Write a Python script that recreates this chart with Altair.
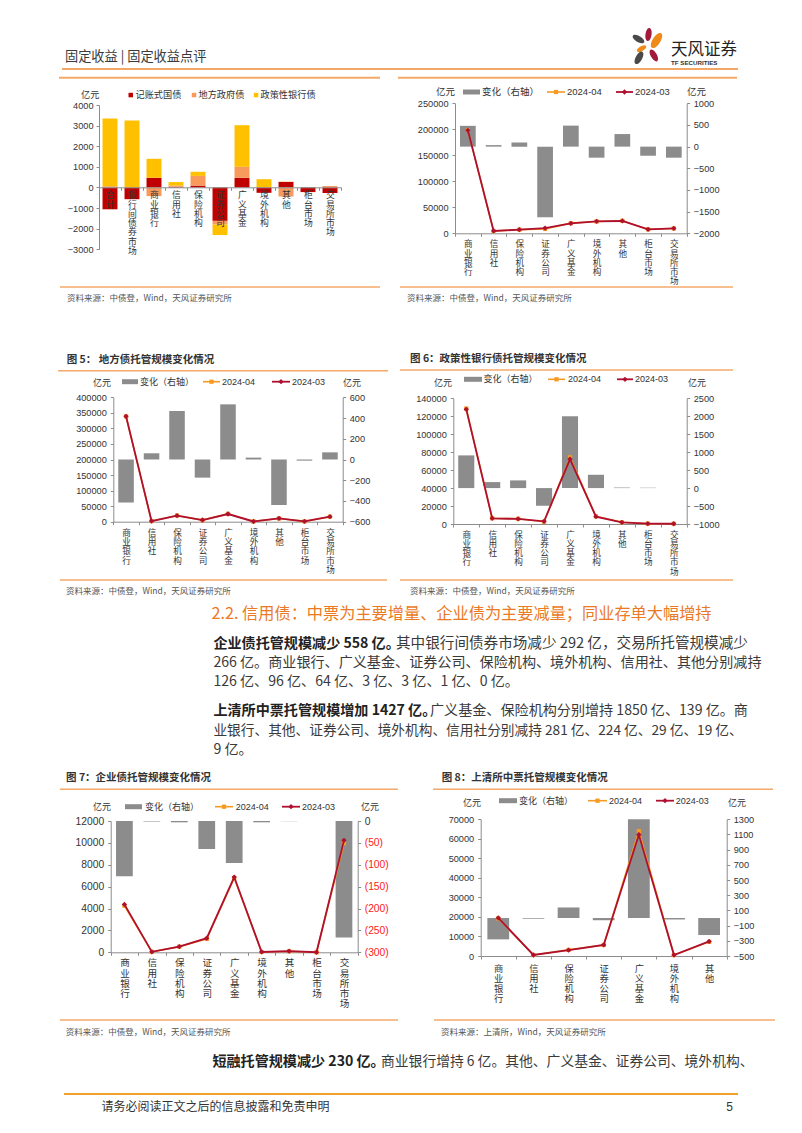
import altair as alt
import pandas as pd

# ---------------- data (亿元) ----------------
TL_CATS = ["合计", "银行间债券市场", "商业银行", "信用社", "保险机构", "证券公司",
           "广义基金", "境外机构", "其他", "柜台市场", "交易所市场"]
TL_SERIES = ["记账式国债", "地方政府债", "政策性银行债"]
TL_GOV = [-1060, -570, 470, 30, 90, -1620, 470, -260, 270, -220, -270]
TL_LOCAL = [60, 0, -420, 60, 470, -180, 530, 10, -440, -10, 70]
TL_POLICY = [3290, 3250, 920, 170, 200, -510, 2020, 390, 10, 0, 0]

CATS9 = ["商业银行", "信用社", "保险机构", "证券公司", "广义基金", "境外机构", "其他", "柜台市场", "交易所市场"]
CATS7 = ["商业银行", "信用社", "保险机构", "证券公司", "广义基金", "境外机构", "其他"]

GOV_CHG = [480, 35, 95, -1630, 485, -255, 290, -210, -255]
GOV_03 = [198000, 4500, 7000, 10000, 19000, 23000, 23700, 7700, 9600]
GOV_04 = [198480, 4535, 7095, 8370, 19485, 22745, 23990, 7490, 9345]

LOC_CHG = [-415, 60, 468, -175, 532, 18, -439, -11, 69]
LOC_03 = [339000, 2000, 19300, 5400, 24700, 700, 10700, 1000, 16100]
LOC_04 = [338585, 2060, 19768, 5225, 25232, 718, 10261, 989, 16169]

POL_CHG = [910, 167, 214, -492, 2000, 371, 15, 10, 0]
POL_03 = [127700, 6300, 5600, 3000, 72300, 8200, 1900, 400, 300]
POL_04 = [128610, 6467, 5814, 2508, 74300, 8571, 1915, 410, 300]

ENT_CHG = [-126, -1, -3, -64, -96, -3, -0.4, 0, -266]
ENT_03 = [4380, 40, 520, 1290, 6880, 30, 100, 5, 10230]
ENT_04 = [4254, 39, 517, 1226, 6784, 27, 100, 5, 9964]

MTN_CHG = [-281, -9, 139, -29, 1850, -19, -224]
MTN_03 = [19500, 520, 3000, 5660, 62100, 500, 7480]
MTN_04 = [19219, 511, 3139, 5631, 63950, 481, 7256]

# ---------------- style ----------------
W, H = 786, 1117
NUM_FONT = "Liberation Sans, Noto Sans CJK SC"
CJK_FONT = "Noto Sans CJK SC, Liberation Sans"
TXT = "#333333"
AX = "#8C8C8C"
BAR_GRAY = "#8C8C8C"
C_ORANGE = "#F59A23"
C_RED = "#B01030"
C_GOV = "#C00000"
C_LOCAL = "#F79A5B"
C_POLICY = "#FFC000"
SEP = "#F4A86A"
HEAD_ORANGE = "#EB7A24"


def px(v):
    return round(v - 8, 2)


def py(v):
    return round(v - 8, 2)


DUMMY = pd.DataFrame({"d": [0]})
ann = []


def text(x, y, s, size=9.0, color=TXT, weight="normal", align="left", font=CJK_FONT):
    ann.append(alt.Chart(DUMMY).mark_text(text=s, fontSize=size, color=color, fontWeight=weight,
                                          align=align, baseline="middle", font=font)
               .encode(x=alt.value(px(x)), y=alt.value(py(y))))


def hline(x0, x1, y, color=SEP, width=1.5):
    ann.append(alt.Chart(DUMMY).mark_rule(color=color, strokeWidth=width)
               .encode(x=alt.value(px(x0)), x2=alt.value(px(x1)), y=alt.value(py(y))))


def rect(x0, x1, y0, y1, color):
    ann.append(alt.Chart(DUMMY).mark_rect(color=color)
               .encode(x=alt.value(px(x0)), x2=alt.value(px(x1)), y=alt.value(py(y0)), y2=alt.value(py(y1))))


def marker(x, y, shape, color, size, angle=0):
    ann.append(alt.Chart(DUMMY).mark_point(shape=shape, filled=True, color=color, size=size,
                                           angle=angle, opacity=1, strokeWidth=0)
               .encode(x=alt.value(px(x)), y=alt.value(py(y))))


def num_axis(orient, offset, values, size, fmt_expr=None, color=TXT, pad=3.5):
    kw = dict(orient=orient, offset=offset, values=values, format="d", title=None, grid=False,
              tickSize=3, tickColor=AX, domainColor=AX, labelFont=NUM_FONT, labelFontSize=size,
              labelColor=color, labelPadding=pad, labelOverlap=False)
    if fmt_expr:
        kw["labelExpr"] = fmt_expr
    return alt.Axis(**kw)


def cat_axis(offset, size, lh, pad, z=0):
    return alt.Axis(orient="bottom", offset=offset, title=None, labelAngle=0,
                    labelExpr="split(datum.label, '')", labelFont=CJK_FONT, labelFontSize=size,
                    labelLineHeight=lh, labelBaseline="top", labelPadding=pad, labelColor=TXT,
                    labelOverlap=False, tickBand="extent", tickSize=3, tickColor=AX,
                    domainColor=AX, grid=False, zindex=z)


def combo(cats, chg, v03, v04, xr, yr, ldom, lvals, rdom, rvals, band=0.61, num_size=9.2,
          cat_size=8.6, cat_lh=9.3, cat_pad=3, rfmt=None, rcolor=TXT):
    x0, x1 = xr
    yb, yt = yr
    xenc = alt.X("cat:N", sort=cats,
                 scale=alt.Scale(domain=cats, range=[px(x0), px(x1)], paddingInner=0, paddingOuter=0),
                 axis=cat_axis(py(yb) - H, cat_size, cat_lh, cat_pad))
    bdf = pd.DataFrame({"cat": cats, "chg": chg})
    bars = alt.Chart(bdf).mark_bar(color=BAR_GRAY, width={"band": band}).encode(
        x=xenc,
        y=alt.Y("chg:Q", scale=alt.Scale(domain=rdom, range=[py(yb), py(yt)], clamp=True, nice=False, zero=False),
                axis=num_axis("right", px(x1) - W, rvals, num_size, rfmt, rcolor, pad=3.5)))
    ly = alt.Y("v:Q", scale=alt.Scale(domain=ldom, range=[py(yb), py(yt)], nice=False, zero=False),
               axis=num_axis("left", -px(x0), lvals, num_size, pad=4))
    d4 = pd.DataFrame({"cat": cats, "v": v04, "i": list(range(len(cats)))})
    d3 = pd.DataFrame({"cat": cats, "v": v03, "i": list(range(len(cats)))})
    l4 = alt.Chart(d4).mark_line(color=C_ORANGE, strokeWidth=1.6).encode(x=xenc, y=ly, order="i:Q")
    p4 = alt.Chart(d4).mark_point(shape="square", filled=True, color=C_ORANGE, size=18, opacity=1).encode(x=xenc, y=ly)
    l3 = alt.Chart(d3).mark_line(color=C_RED, strokeWidth=1.8).encode(x=xenc, y=ly, order="i:Q")
    p3 = alt.Chart(d3).mark_point(shape="diamond", filled=True, color=C_RED, size=28, opacity=1).encode(x=xenc, y=ly)
    lines = alt.layer(l4, p4, l3, p3)
    return alt.layer(bars, lines).resolve_scale(y="independent")


def legend(y, yi_l, yi_r_x, yi_y, rx0, rx1, tx, ox0, ox1, otx, qx0, qx1, qtx, size=9.0,
           bar_label="变化（右轴）"):
    text(yi_l, yi_y, "亿元", size)
    rect(rx0, rx1, y - 2.5, y + 2.5, BAR_GRAY)
    text(tx, y, bar_label, size)
    hline(ox0, ox1, y, C_ORANGE, 1.6)
    marker((ox0 + ox1) / 2, y, "square", C_ORANGE, 18)
    text(otx, y, "2024-04", size, font=NUM_FONT)
    hline(qx0, qx1, y, C_RED, 1.8)
    marker((qx0 + qx1) / 2, y, "diamond", C_RED, 28)
    text(qtx, y, "2024-03", size, font=NUM_FONT)
    text(yi_r_x, yi_y, "亿元", size)


# ---------------- top-left stacked chart ----------------
rows = []
for i, c in enumerate(TL_CATS):
    for k, (s, vals) in enumerate(zip(TL_SERIES, [TL_GOV, TL_LOCAL, TL_POLICY])):
        rows.append({"cat": c, "ser": s, "val": vals[i], "ord": k})
tl = alt.Chart(pd.DataFrame(rows)).mark_bar(width={"band": 0.68}).encode(
    x=alt.X("cat:N", sort=TL_CATS,
            scale=alt.Scale(domain=TL_CATS, range=[px(99), px(341)], paddingInner=0, paddingOuter=0),
            axis=cat_axis(py(187.3) - H, 8.8, 9.3, 0.5, z=1)),
    y=alt.Y("val:Q", stack="zero",
            scale=alt.Scale(domain=[-3000, 4000], range=[py(249.3), py(105)], nice=False, zero=False),
            axis=num_axis("left", -px(99), list(range(-3000, 4001, 1000)), 9.2, pad=3)),
    color=alt.Color("ser:N", scale=alt.Scale(domain=TL_SERIES, range=[C_GOV, C_LOCAL, C_POLICY]), legend=None),
    order=alt.Order("ord:Q"),
)

# ---------------- combo charts ----------------
tr = combo(CATS9, GOV_CHG, GOV_03, GOV_04, (455, 686.7), (233.3, 103.3),
           [0, 250000], list(range(0, 250001, 50000)), [-2000, 1000], list(range(-2000, 1001, 500)),
           band=0.61, cat_pad=3.5)
f5 = combo(CATS9, LOC_CHG, LOC_03, LOC_04, (113.3, 342.7), (521.7, 397.3),
           [0, 400000], list(range(0, 400001, 50000)), [-600, 600], list(range(-600, 601, 200)),
           band=0.61, cat_pad=3.5)
f6 = combo(CATS9, POL_CHG, POL_03, POL_04, (453.3, 686.7), (524, 398.3),
           [0, 140000], list(range(0, 140001, 20000)), [-1000, 2500], list(range(-1000, 2501, 500)),
           band=0.62, cat_pad=3)
f7 = combo(CATS9, ENT_CHG, ENT_03, ENT_04, (110.7, 357.7), (952.3, 821),
           [0, 12000], list(range(0, 12001, 2000)), [-300, 0], list(range(-300, 1, 50)),
           band=0.61, num_size=10.3, cat_size=9.6, cat_lh=10.3, cat_pad=2.5,
           rfmt="datum.value < 0 ? '(' + format(-datum.value, 'd') + ')' : format(datum.value, 'd')",
           rcolor={"condition": {"test": "datum.value == 0", "value": TXT}, "value": "#FF2020"})
f8 = combo(CATS7, MTN_CHG, MTN_03, MTN_04, (480.7, 726.7), (956, 819.3),
           [0, 70000], list(range(0, 70001, 10000)), [-500, 1300], list(range(-500, 1301, 200)),
           band=0.62, cat_size=9.3, cat_lh=10, cat_pad=5)

# ---------------- page annotations ----------------
# header
text(65, 57, "固定收益 | 固定收益点评", 13.2, "#3A3A3A")
hline(62, 738, 69, "#EE8A34", 1.6)
PETAL = "M0,-1 C0.62,-1 0.62,1 0,1 C-0.62,1 -0.62,-1 0,-1 Z"
marker(648.5, 34.5, PETAL, "#A3193A", 170, 8)
marker(638.5, 39, PETAL, "#4A4A4A", 170, 300)
marker(656.5, 40.5, PETAL, "#EF8A1A", 290, 32)
marker(641.5, 48.7, PETAL, "#EF8A1A", 110, 60)
marker(639, 57.8, PETAL, "#4A4A4A", 190, 28)
marker(653.8, 55.5, PETAL, "#A3193A", 170, 330)
text(671, 49.5, "天风证券", 16.5, "#222222")
text(671, 63.3, "TF SECURITIES", 6.2, "#333333", "bold", font="Liberation Sans Narrow, Liberation Sans")

# top row frames
hline(59, 380, 77.7, SEP, 2)
hline(398, 737, 77.7, SEP, 2)
hline(60, 380, 287, SEP, 1.5)
hline(400, 733, 287, SEP, 1.5)
text(67, 298, "资料来源：中债登，Wind，天风证券研究所", 8.5, "#555555")
text(407, 298, "资料来源：中债登，Wind，天风证券研究所", 8.5, "#555555")

# top-left legend
text(81, 95, "亿元", 9.2)
rect(128.5, 133, 92.8, 97.3, C_GOV)
text(135.5, 95, "记账式国债", 9.2)
rect(191.8, 196.3, 92.8, 97.3, C_LOCAL)
text(198.5, 95, "地方政府债", 9.2)
rect(253.8, 258.3, 92.8, 97.3, C_POLICY)
text(260.5, 95, "政策性银行债", 9.2)

# top-right legend
legend(92, 436, 687, 92, 463, 480, 482, 547, 565, 567, 616, 633, 635, size=9.5)

# figure 5 / 6
text(66.7, 360, "图 5：  地方债托管规模变化情况", 10.5, "#333333", "bold")
hline(58, 388, 370.7, SEP, 1.5)
legend(381.7, 93, 343, 383, 122, 138, 140, 203, 220, 222, 272, 290, 292)
hline(60, 387, 580, SEP, 1.5)
text(66, 590.7, "资料来源：中债登，Wind，天风证券研究所", 8.5, "#555555")

text(410, 359.3, "图 6：政策性银行债托管规模变化情况", 10.5, "#333333", "bold")
hline(400, 733, 370, SEP, 1.5)
legend(379.3, 434, 688, 382.5, 464, 482, 483.5, 548, 565, 568, 617, 633, 635)
hline(400, 733, 580, SEP, 1.5)
text(410, 590.7, "资料来源：中债登，Wind，天风证券研究所", 8.5, "#555555")

# section text
text(211.5, 614, "2.2. 信用债：中票为主要增量、企业债为主要减量；同业存单大幅增持", 16.2, HEAD_ORANGE)
BODY = 14.1
BODY_C = "#3A3A3A"
text(213.4, 644, "企业债托管规模减少  558 亿。", BODY, "#222222", "bold")
text(396, 644, "其中银行间债券市场减少  292  亿，交易所托管规模减少", 14.6, BODY_C)
text(213.4, 663, "266 亿。商业银行、广义基金、证券公司、保险机构、境外机构、信用社、其他分别减持", BODY, BODY_C)
text(213.4, 682, "126 亿、96 亿、64 亿、3 亿、3 亿、1 亿、0 亿。", BODY, BODY_C)
text(213.4, 710.5, "上清所中票托管规模增加 1427 亿。", BODY, "#222222", "bold")
text(430, 710.5, "广义基金、保险机构分别增持 1850 亿、139 亿。商", BODY, BODY_C)
text(213.4, 730.5, "业银行、其他、证券公司、境外机构、信用社分别减持 281 亿、224 亿、29 亿、19 亿、", 13.7, BODY_C)
text(213.4, 750, "9 亿。", BODY, BODY_C)

# figure 7 / 8
text(66, 778.3, "图 7：企业债托管规模变化情况", 10.5, "#333333", "bold")
hline(60, 398, 789.3, SEP, 1.5)
legend(806.7, 93, 361, 806.7, 125, 142, 145, 215, 233, 235.7, 282, 300, 302)
hline(60, 398, 1020, SEP, 1.5)
text(65.7, 1032.3, "资料来源：中债登，Wind，天风证券研究所", 8.5, "#555555")

text(441.7, 778.3, "图 8：上清所中票托管规模变化情况", 10.5, "#333333", "bold")
hline(433, 773, 789.3, SEP, 1.5)
legend(800.7, 463, 728, 803, 499, 517, 519, 588, 607, 609, 656, 674, 675.7)
hline(434, 775, 1020, SEP, 1.5)
text(441, 1032.3, "资料来源：上清所，Wind，天风证券研究所", 8.5, "#555555")

# last paragraph and footer
text(212.4, 1062.3, "短融托管规模减少 230 亿。", BODY, "#222222", "bold")
text(381, 1062.3, "商业银行增持 6 亿。其他、广义基金、证券公司、境外机构、", 13.8, BODY_C)
hline(64, 738, 1094, "#F2A22A", 2)
text(101.6, 1106.7, "请务必阅读正文之后的信息披露和免责申明", 12, "#333333")
text(733, 1106.7, "5", 12, "#333333", align="right", font=NUM_FONT)

chart = alt.layer(tl, tr, f5, f6, f7, f8, *ann).resolve_scale(
    x="independent", y="independent"
).properties(
    width=W, height=H, autosize=alt.AutoSizeParams(type="none"), padding=0
).configure_view(stroke=None)

chart.save("out.html", embed_options={"renderer": "svg", "actions": False})
